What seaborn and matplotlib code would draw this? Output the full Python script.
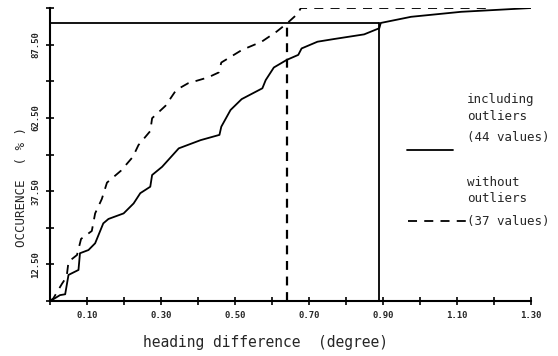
import matplotlib
matplotlib.use('Agg')
import matplotlib.pyplot as plt
from matplotlib.lines import Line2D
import seaborn as sns
import pandas as pd
import numpy as np

sns.set_theme(style='ticks')
plt.rcParams['font.family'] = ['DejaVu Sans Mono']

# cumulative occurrence, including outliers (44 values)
incl_x = [0.0, 0.005, 0.027, 0.041, 0.050, 0.077, 0.081, 0.104, 0.122, 0.144, 0.158,
          0.199, 0.226, 0.244, 0.271, 0.276, 0.303, 0.348, 0.407, 0.458, 0.463,
          0.488, 0.518, 0.574, 0.583, 0.605, 0.640, 0.671, 0.680, 0.723, 0.767,
          0.849, 0.890, 0.894, 0.976, 1.111, 1.30]
incl_y = [0.0, 0.3, 2.0, 2.3, 8.9, 10.6, 16.3, 17.4, 19.7, 26.5, 28.0,
          29.9, 33.3, 36.8, 39.0, 43.0, 45.8, 52.1, 54.9, 56.7, 59.5,
          65.2, 68.9, 72.6, 75.4, 79.7, 82.3, 84.0, 86.2, 88.5, 89.4,
          91.0, 93.1, 94.9, 97.0, 98.7, 100.0]

# cumulative occurrence, without outliers (37 values)
excl_x = [0.0, 0.009, 0.032, 0.045, 0.050, 0.073, 0.084, 0.113, 0.122, 0.140, 0.154,
          0.192, 0.224, 0.239, 0.271, 0.276, 0.312, 0.341, 0.373, 0.427, 0.456,
          0.463, 0.519, 0.572, 0.612, 0.641, 0.669, 0.678, 1.19]
excl_y = [0.0, 0.9, 5.8, 8.3, 13.4, 15.7, 21.2, 23.9, 29.9, 34.8, 40.4,
          44.5, 49.2, 53.2, 58.0, 62.4, 66.6, 72.0, 74.3, 76.3, 78.0,
          81.4, 85.7, 88.5, 91.9, 94.8, 98.0, 100.0, 100.0]

level = 95.0          # confidence level line
x95_excl = 0.64       # 95 % value without outliers
x95_incl = 0.89       # 95 % value including outliers

xticks_major = [0.10, 0.30, 0.50, 0.70, 0.90, 1.10, 1.30]
xticks_minor = [0.0, 0.20, 0.40, 0.60, 0.80, 1.00, 1.20]
yticks_major = [12.5, 37.5, 62.5, 87.5]
yticks_minor = [0, 25, 50, 75, 100]

incl = pd.DataFrame({'x': incl_x, 'y': incl_y})
excl = pd.DataFrame({'x': excl_x, 'y': excl_y})

fig = plt.figure(figsize=(5.58, 3.56), dpi=100)
ax = fig.add_axes([0.0896, 0.1545, 0.862, 0.823])

sns.lineplot(data=incl, x='x', y='y', ax=ax, color='black', lw=1.3,
             sort=False, estimator=None)
sns.lineplot(data=excl, x='x', y='y', ax=ax, color='black', lw=1.3,
             sort=False, estimator=None, dashes=False, linestyle=(0, (5, 4)))

ax.plot([0, x95_incl], [level, level], color='black', lw=1.3)
ax.plot([x95_incl, x95_incl], [0, level], color='black', lw=1.3)
ax.plot([x95_excl, x95_excl], [0, level], color='black', lw=1.6,
        linestyle=(0, (4, 3)))

ax.set_xlim(0, 1.30)
ax.set_ylim(0, 100)
ax.set_xticks(xticks_major)
ax.set_xticks(xticks_minor, minor=True)
ax.set_xticklabels([f'{v:.2f}' for v in xticks_major], fontsize=6.5,
                   fontweight='bold')
ax.set_yticks(yticks_major)
ax.set_yticks(yticks_minor, minor=True)
ax.set_yticklabels([f'{v:.2f}' for v in yticks_major], fontsize=6.5,
                   fontweight='bold', rotation=90, va='center')
ax.tick_params(which='both', direction='inout', length=6, width=1.2,
               color='black', pad=4)
ax.set_xlabel('heading difference  (degree)', fontsize=10.5)
ax.set_ylabel('OCCURENCE  ( % )', fontsize=9)
ax.xaxis.set_label_coords(0.447, -0.115)
ax.yaxis.set_label_coords(-0.045, 0.39)
sns.despine(ax=ax)
for s in ['left', 'bottom']:
    ax.spines[s].set_linewidth(1.5)
    ax.spines[s].set_color('black')

# legend drawn as free text beside the curves
W, H = 558, 356
def ft(px, py, s):
    fig.text(px / W, 1 - py / H, s, fontsize=9, ha='left', va='center')

ft(467, 100, 'including')
ft(467, 116, 'outliers')
ft(467, 138, '(44 values)')
fig.add_artist(Line2D([407 / W, 453 / W], [1 - 150 / H, 1 - 150 / H],
                      color='black', lw=1.3))
ft(467, 182, 'without')
ft(467, 198, 'outliers')
ft(467, 221, '(37 values)')
fig.add_artist(Line2D([408 / W, 466 / W], [1 - 221 / H, 1 - 221 / H],
                      color='black', lw=1.3, linestyle=(0, (5, 4))))

fig.savefig('out.png', dpi=100)
